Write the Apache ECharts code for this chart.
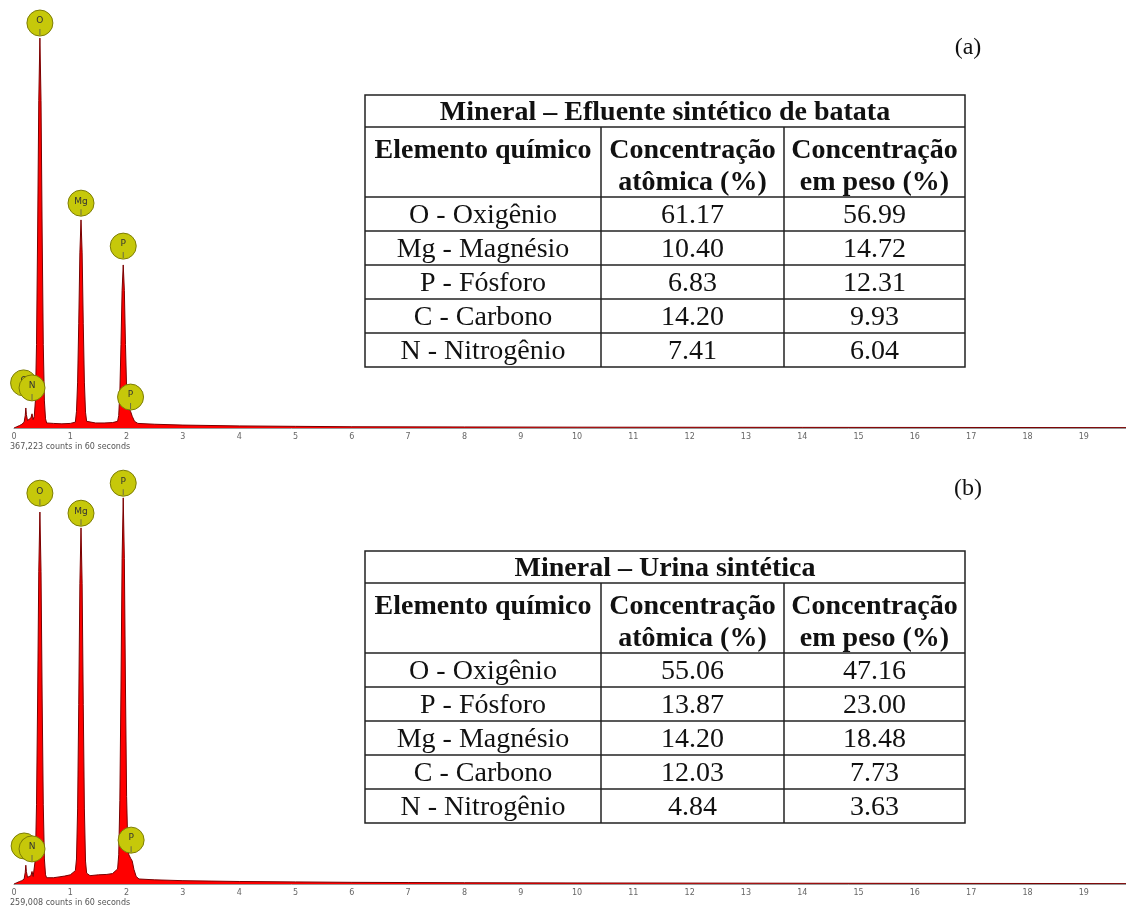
<!DOCTYPE html>
<html>
<head>
<meta charset="utf-8">
<script src="https://cdn.jsdelivr.net/npm/echarts@6/dist/echarts.min.js"></script>
<style>
  html, body { margin: 0; padding: 0; background: #ffffff; }
  #chart { width: 1126px; height: 908px; }
</style>
</head>
<body>
<div id="chart"></div>
<script>
// ---- EDS spectrum (a): energy (keV) and counts ----
const energyA = [0, 0.05, 0.10, 0.14, 0.18, 0.20, 0.21, 0.22, 0.24, 0.27, 0.30, 0.32, 0.34, 0.36,
  0.38, 0.40, 0.42, 0.44, 0.46, 0.48, 0.50, 0.52, 0.54, 0.56, 0.58, 0.70, 0.85, 1.00,
  1.09, 1.11, 1.13, 1.15, 1.17, 1.19, 1.21, 1.23, 1.25, 1.27, 1.29, 1.45, 1.60, 1.75,
  1.84, 1.86, 1.88, 1.90, 1.92, 1.94, 1.96, 1.98, 2.00, 2.02, 2.04, 2.07, 2.10, 2.14, 2.20,
  2.50, 3.00, 4.00, 5.00, 6.00, 8.00, 10.0, 14.0, 19.75];
const countsA = [0, 3, 6, 9, 14, 30, 48, 32, 18, 16, 24, 34, 20, 28,
  65, 200, 470, 785, 935, 785, 470, 200, 65, 22, 12, 11, 10, 11,
  14, 40, 110, 250, 420, 499, 420, 250, 110, 38, 16, 12, 12, 13,
  16, 30, 85, 200, 330, 391, 330, 200, 95, 60, 48, 40, 28, 16, 11,
  9, 7, 5, 4, 3, 2.5, 2, 1.5, 1];

// ---- EDS spectrum (b): energy (keV) and counts ----
const energyB = [0, 0.05, 0.10, 0.14, 0.18, 0.20, 0.21, 0.22, 0.24, 0.27, 0.30, 0.32, 0.34, 0.36,
  0.38, 0.40, 0.42, 0.44, 0.46, 0.48, 0.50, 0.52, 0.54, 0.56, 0.58, 0.70, 0.80, 0.90, 1.00,
  1.09, 1.11, 1.13, 1.15, 1.17, 1.19, 1.21, 1.23, 1.25, 1.27, 1.29, 1.35, 1.50, 1.65, 1.75,
  1.84, 1.86, 1.88, 1.90, 1.92, 1.94, 1.96, 1.98, 2.00, 2.02, 2.04, 2.07, 2.10, 2.13, 2.17, 2.22,
  2.50, 3.00, 3.50, 4.00, 5.00, 6.00, 7.00, 8.00, 10.0, 13.0, 16.0, 19.75];
const countsB = [0, 3, 6, 8, 12, 28, 45, 30, 16, 14, 20, 30, 18, 22,
  60, 190, 446, 750, 892, 750, 446, 190, 60, 22, 15, 15, 17, 19, 22,
  32, 60, 180, 430, 720, 854, 720, 430, 180, 55, 26, 20, 22, 23, 25,
  36, 70, 200, 470, 780, 926, 780, 470, 210, 100, 70, 62, 55, 35, 18, 12,
  10, 8, 7, 6, 5, 4, 3.5, 3, 2.5, 2, 1.5, 1];

// ---- element line markers (name, energy keV, counts at marker base) ----
// the first marker of each list sits behind the others
const markerNamesA = ['C', 'N', 'O', 'Mg', 'P', 'P'];
const markerEnergyA = [0.17, 0.32, 0.46, 1.19, 1.94, 2.07];
const markerCountsA = [77, 65, 940, 508, 405, 43];
const markerNamesB = ['C', 'N', 'O', 'Mg', 'P', 'P'];
const markerEnergyB = [0.18, 0.32, 0.46, 1.19, 1.94, 2.08];
const markerCountsB = [60, 53, 906, 858, 930, 74];

const captionA = '367,223 counts in 60 seconds';
const captionB = '259,008 counts in 60 seconds';

// ---- composition tables ----
const tableTitleA = 'Mineral – Efluente sintético de batata';
const elementsA = ['O - Oxigênio', 'Mg - Magnésio', 'P - Fósforo', 'C - Carbono', 'N - Nitrogênio'];
const atomicA = ['61.17', '10.40', '6.83', '14.20', '7.41'];
const weightA = ['56.99', '14.72', '12.31', '9.93', '6.04'];

const tableTitleB = 'Mineral – Urina sintética';
const elementsB = ['O - Oxigênio', 'P - Fósforo', 'Mg - Magnésio', 'C - Carbono', 'N - Nitrogênio'];
const atomicB = ['55.06', '13.87', '14.20', '12.03', '4.84'];
const weightB = ['47.16', '23.00', '18.48', '7.73', '3.63'];

const headerCols = [['Elemento químico'], ['Concentração', 'atômica (%)'], ['Concentração', 'em peso (%)']];

// ---- drawing ----
const chart = echarts.init(document.getElementById('chart'), null, { renderer: 'canvas' });

function pairs(xs, ys) { return xs.map((x, i) => [x, ys[i]]); }

function xAxisFor(idx) {
  return {
    type: 'value', gridIndex: idx, min: 0, max: 19.75, interval: 1,
    axisLine: { show: true, lineStyle: { color: '#9a9a9a', width: 1 } },
    axisTick: { show: false },
    splitLine: { show: false },
    axisLabel: {
      fontSize: 8, color: '#666', margin: 5, fontFamily: 'DejaVu Sans',
      showMaxLabel: false,
      formatter: v => (Number.isInteger(v) ? String(v) : '')
    }
  };
}
function yAxisFor(idx) {
  return { type: 'value', gridIndex: idx, min: 0, max: 1000, show: false };
}
function spectrum(idx, xs, ys) {
  return {
    type: 'line', xAxisIndex: idx, yAxisIndex: idx, data: pairs(xs, ys),
    showSymbol: false, smooth: false, silent: true, z: 2,
    lineStyle: { color: '#7a0000', width: 1 },
    areaStyle: { color: '#ff0000', opacity: 1 }
  };
}
function markerSeries(idx, data, z) {
  return [{
    type: 'scatter', xAxisIndex: idx, yAxisIndex: idx, data: data, silent: true, z: z,
    symbol: 'circle', symbolSize: 26, symbolOffset: [0, -13],
    itemStyle: { color: '#c6c80a', borderColor: '#7d7d05', borderWidth: 1, opacity: 1 },
    label: {
      show: true, position: 'inside', formatter: p => p.name,
      fontSize: 9, color: '#333', fontFamily: 'DejaVu Sans', offset: [0, -2]
    }
  }, {
    type: 'scatter', xAxisIndex: idx, yAxisIndex: idx, data: data, silent: true, z: z + 1,
    symbol: 'rect', symbolSize: [1, 6], symbolOffset: [0, -4],
    itemStyle: { color: '#555' }
  }];
}
function markers(idx, names, xs, ys) {
  const data = names.map((n, i) => ({ name: n, value: [xs[i], ys[i]] }));
  // back marker first, the rest drawn above it
  return [].concat(markerSeries(idx, data.slice(0, 1), 4), markerSeries(idx, data.slice(1), 6));
}

// table builder: outline, cell rules and text
const colX = [365, 601, 784, 965];
const serif = '"Liberation Serif", "Times New Roman", serif';
function table(top, title, elems, atomic, weight) {
  const titleH = 32, headH = 70, rowH = 34, dy = 2;
  const bottom = top + titleH + headH + rowH * elems.length;
  const els = [];
  const ls = { stroke: '#222', lineWidth: 1.5 };
  const hline = (y) => els.push({ type: 'line', shape: { x1: colX[0], y1: y, x2: colX[3], y2: y }, style: ls });
  const vline = (x, y1, y2) => els.push({ type: 'line', shape: { x1: x, y1: y1, x2: x, y2: y2 }, style: ls });
  els.push({ type: 'rect', shape: { x: colX[0], y: top, width: colX[3] - colX[0], height: bottom - top },
    style: { fill: '#fff', stroke: '#222', lineWidth: 1.5 } });
  hline(top + titleH);
  hline(top + titleH + headH);
  for (let i = 1; i < elems.length; i++) hline(top + titleH + headH + rowH * i);
  vline(colX[1], top + titleH, bottom);
  vline(colX[2], top + titleH, bottom);
  const txt = (s, x, y, bold) => els.push({ type: 'text', style: {
    text: s, x: x, y: y + dy, align: 'center', verticalAlign: 'middle',
    font: (bold ? 'bold ' : '') + '28px ' + serif, fill: '#111' } });
  txt(title, (colX[0] + colX[3]) / 2, top + titleH / 2, true);
  headerCols.forEach((lines, c) => {
    const cx = (colX[c] + colX[c + 1]) / 2;
    lines.forEach((s, k) => txt(s, cx, top + titleH + 22 + k * 32, true));
  });
  elems.forEach((e, i) => {
    const cy = top + titleH + headH + rowH * i + rowH / 2;
    txt(e, (colX[0] + colX[1]) / 2, cy, false);
    txt(atomic[i], (colX[1] + colX[2]) / 2, cy, false);
    txt(weight[i], (colX[2] + colX[3]) / 2, cy, false);
  });
  return els;
}

const graphics = [].concat(
  table(95, tableTitleA, elementsA, atomicA, weightA),
  table(551, tableTitleB, elementsB, atomicB, weightB),
  [
    { type: 'text', style: { text: '(a)', x: 968, y: 48, align: 'center', verticalAlign: 'middle', font: '24px ' + serif, fill: '#111' } },
    { type: 'text', style: { text: '(b)', x: 968, y: 489, align: 'center', verticalAlign: 'middle', font: '24px ' + serif, fill: '#111' } },
    { type: 'text', style: { text: captionA, x: 10, y: 447, align: 'left', verticalAlign: 'middle', font: '8px "DejaVu Sans"', fill: '#555' } },
    { type: 'text', style: { text: captionB, x: 10, y: 903, align: 'left', verticalAlign: 'middle', font: '8px "DejaVu Sans"', fill: '#555' } }
  ]
);

chart.setOption({
  animation: false,
  backgroundColor: '#ffffff',
  grid: [
    { left: 14, right: 0, top: 11, height: 417 },
    { left: 14, right: 0, top: 467, height: 417 }
  ],
  xAxis: [xAxisFor(0), xAxisFor(1)],
  yAxis: [yAxisFor(0), yAxisFor(1)],
  series: [].concat(
    spectrum(0, energyA, countsA),
    spectrum(1, energyB, countsB),
    markers(0, markerNamesA, markerEnergyA, markerCountsA),
    markers(1, markerNamesB, markerEnergyB, markerCountsB)
  ),
  graphic: graphics
});
</script>
</body>
</html>
